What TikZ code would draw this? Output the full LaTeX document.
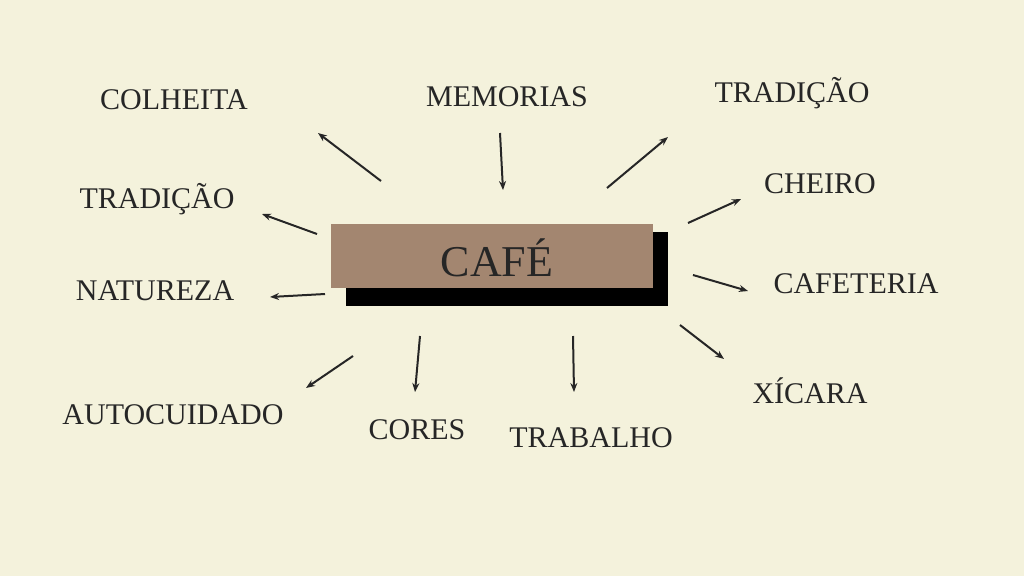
\documentclass[tikz,border=0pt]{standalone}
\usepackage{fontspec}
\setmainfont{Liberation Serif}
\usetikzlibrary{arrows.meta}
\definecolor{bg}{HTML}{F4F2DC}
\definecolor{brownbox}{HTML}{A38670}
\begin{document}
\begin{tikzpicture}[x=1pt,y=-1pt,
  lbl/.style={font=\fontsize{30}{30}\selectfont, text=black!85},
  arr/.style={-{Stealth[length=9pt,width=7pt]}, line width=2pt, black!85}]
\fill[bg] (0,0) rectangle (1024,576);
\useasboundingbox (0,0) rectangle (1024,576);
\fill[black] (346,232) rectangle (668,306);
\fill[brownbox] (331,224) rectangle (653,288);
\node[font=\fontsize{44}{44}\selectfont, text=black!85] (cafe) at (497,258) {CAFÉ};
\node[lbl] (l1) at (174,100) {COLHEITA};
\node[lbl] (l2) at (507,97) {MEMORIAS};
\node[lbl] (l3) at (792,93) {TRADIÇÃO};
\node[lbl] (l4) at (157,199) {TRADIÇÃO};
\node[lbl] (l5) at (820,184) {CHEIRO};
\node[lbl] (l6) at (155,291) {NATUREZA};
\node[lbl] (l7) at (856,284) {CAFETERIA};
\node[lbl] (l8) at (810,391) {XÍCARA};
\node[lbl] (l9) at (173,415) {AUTOCUIDADO};
\node[lbl] (l10) at (417,430) {CORES};
\node[lbl] (l11) at (591,438) {TRABALHO};
\coordinate (s1) at (381,181); \coordinate (e1) at (318,133);
\coordinate (s2) at (500,133); \coordinate (e2) at (503,190);
\coordinate (s3) at (607,188); \coordinate (e3) at (668,137);
\coordinate (s4) at (317,234); \coordinate (e4) at (262,214);
\coordinate (s5) at (688,223); \coordinate (e5) at (741,199);
\coordinate (s6) at (325,294); \coordinate (e6) at (270,297);
\coordinate (s7) at (693,275); \coordinate (e7) at (748,291);
\coordinate (s8) at (680,325); \coordinate (e8) at (724,359);
\coordinate (s9) at (353,356); \coordinate (e9) at (306,388);
\coordinate (s10) at (420,336); \coordinate (e10) at (415,392);
\coordinate (s11) at (573,336); \coordinate (e11) at (574,392);
\foreach \i in {1,...,11} {\draw[arr] (s\i) -- (e\i);}
\end{tikzpicture}
\end{document}
